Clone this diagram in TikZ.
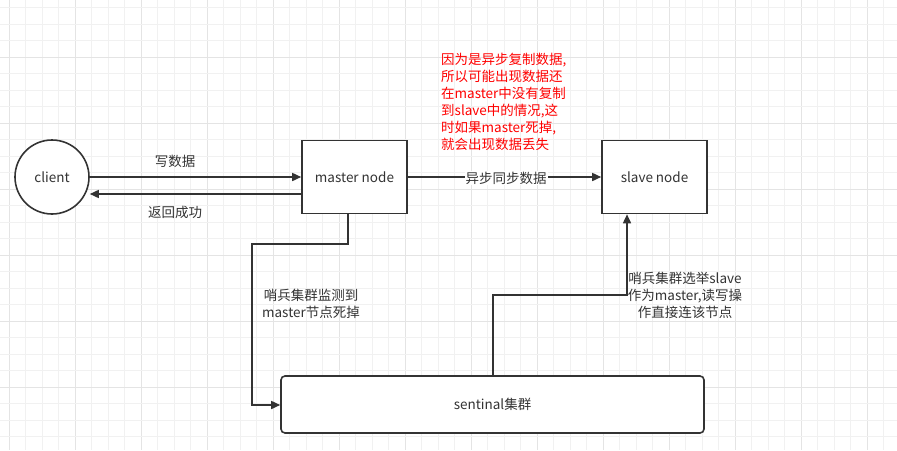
\documentclass[tikz,border=0pt]{standalone}
\usepackage{fontspec}
\setmainfont{Noto Sans CJK SC}
\usetikzlibrary{arrows.meta}
\definecolor{lineC}{HTML}{333333}
\definecolor{gridA}{HTML}{F1F1F1}
\definecolor{gridB}{HTML}{E4E4E4}
\definecolor{redT}{HTML}{FF0000}
\tikzset{
  conn/.style={draw=lineC, line width=1.6pt, -{Triangle[length=9pt,width=8pt]}},
  plain/.style={draw=lineC, line width=1.6pt},
  boxn/.style={draw=lineC, line width=1.6pt, fill=white, minimum width=105pt, minimum height=73pt, inner sep=0pt, font=\fontsize{13.5}{16}\selectfont, text=lineC},
  lbl/.style={font=\fontsize{13.5}{17}\selectfont, text=lineC, inner sep=1pt, align=center},
}
\begin{document}
\begin{tikzpicture}[x=1pt,y=-1pt]
\useasboundingbox (0,0) rectangle (897,450);
\fill[white] (0,0) rectangle (897,450);
% grid
\foreach \k in {0,...,54} {
  \pgfmathsetmacro{\xx}{9.3+16.5*\k}
  \pgfmathtruncatemacro{\m}{mod(\k,4)}
  \ifnum\m=0 \draw[gridB, line width=0.9pt] (\xx,0) -- (\xx,450); \else \draw[gridA, line width=0.9pt] (\xx,0) -- (\xx,450); \fi
}
\foreach \k in {0,...,27} {
  \pgfmathsetmacro{\yy}{7.8+16.5*\k}
  \pgfmathtruncatemacro{\m}{mod(\k,4)}
  \ifnum\m=3 \draw[gridB, line width=0.9pt] (0,\yy) -- (897,\yy); \else \draw[gridA, line width=0.9pt] (0,\yy) -- (897,\yy); \fi
}
% nodes
\node[draw=lineC, line width=1.6pt, fill=white, circle, minimum size=74pt, inner sep=0pt, font=\fontsize{13.5}{16}\selectfont, text=lineC] (client) at (52,177) {client};
\node[boxn] (master) at (354.5,177) {master node};
\node[boxn] (slave) at (654.5,177) {slave node};
\node[draw=lineC, line width=1.6pt, fill=white, rounded corners=4pt, minimum width=423pt, minimum height=57pt, inner sep=0pt, font=\fontsize{13.5}{16}\selectfont, text=lineC] (sent) at (492.5,404.5) {sentinal集群};
% connectors
\draw[conn] (client.east |- 0,177) -- (master.west |- 0,177);
\draw[conn] (master.west |- 0,194) -- (client.east |- 0,194);
\draw[conn] (master.east |- 0,177) -- (slave.west |- 0,177);
\coordinate (a1) at (348,244);
\coordinate (a2) at (252,244);
\coordinate (a3) at (252,405);
\draw[conn] (master.south -| 348,0) -- (a1) -- (a2) -- (a3) -- (sent.west |- a3);
\coordinate (b1) at (493,295);
\coordinate (b2) at (627,295);
\draw[conn] (sent.north -| 493,0) -- (b1) -- (b2) -- (slave.south -| 627,0);
% labels
\node[lbl] (l1) at (175,161) {写数据};
\node[lbl] (l2) at (175,212) {返回成功};
\node[lbl, fill=white] (l3) at (506,178) {异步同步数据};
\node[lbl] (l4) at (311,303.5) {哨兵集群监测到\\master节点死掉};
\node[lbl] (l5) at (685,295) {哨兵集群选举slave\\作为master,读写操\\作直接连该节点};
\node[lbl, align=left, text=redT, anchor=north west, inner sep=0pt] (l6) at (441,53) {因为是异步复制数据,\\所以可能出现数据还\\在master中没有复制\\到slave中的情况,这\\时如果master死掉,\\就会出现数据丢失};
\end{tikzpicture}
\end{document}
